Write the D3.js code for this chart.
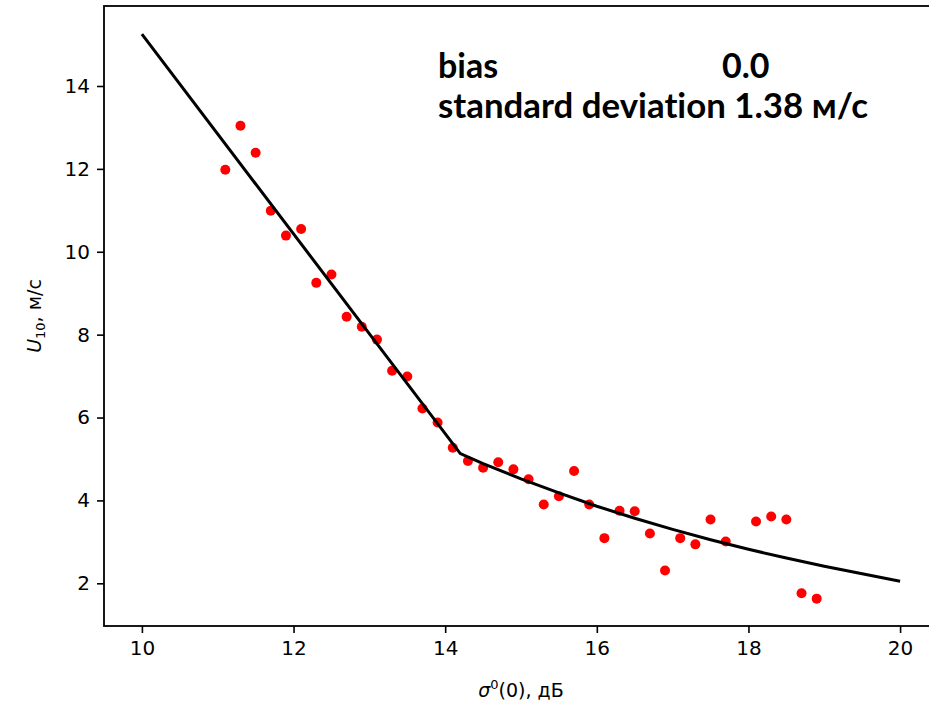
<!DOCTYPE html>
<html>
<head>
<meta charset="utf-8">
<script src="https://cdn.jsdelivr.net/npm/d3@7"></script>
<style>
  body { margin: 0; background: #fff; overflow: hidden; }
  svg { display: block; }
  .tick text { font-family: "DejaVu Sans", sans-serif; font-size: 20px; fill: #000; }
</style>
</head>
<body>
<script>
// measured points
const sigmaX = [11.1, 11.3, 11.5, 11.7, 11.9, 12.1, 12.3, 12.5, 12.7, 12.9,
                13.1, 13.3, 13.5, 13.7, 13.9, 14.1, 14.3, 14.5, 14.7, 14.9,
                15.1, 15.3, 15.5, 15.7, 15.9, 16.1, 16.3, 16.5, 16.7, 16.9,
                17.1, 17.3, 17.5, 17.7, 18.1, 18.3, 18.5, 18.7, 18.9];
const windU = [11.98, 13.04, 12.39, 10.99, 10.39, 10.55, 9.25, 9.45, 8.43, 8.19,
               7.88, 7.13, 6.99, 6.22, 5.88, 5.27, 4.95, 4.79, 4.92, 4.75,
               4.51, 3.90, 4.10, 4.71, 3.90, 3.09, 3.75, 3.74, 3.20, 2.31,
               3.09, 2.94, 3.54, 3.01, 3.49, 3.61, 3.54, 1.76, 1.63];

// model curve
const modelX = [10, 14.2, 14.5, 15, 15.5, 16, 16.5, 17, 17.5, 18, 18.5, 19, 19.5, 20];
const modelU = [15.25, 5.13, 4.89, 4.52, 4.18, 3.86, 3.57, 3.30, 3.05, 2.82, 2.61, 2.41, 2.23, 2.05];

const xTicks = [10, 12, 14, 16, 18, 20];
const yTicks = [2, 4, 6, 8, 10, 12, 14];

const statsLabels = ["bias", "standard deviation"];
const statsValues = ["0.0", "1.38 м/с"];

const w = 929, h = 704;
const padL = 104, padR = 938, padT = 6, padB = 626;

const svg = d3.select("body").append("svg")
  .attr("width", w)
  .attr("height", h);

const xScale = d3.scaleLinear().domain([9.5, 20.5]).range([padL, padR]);
const yScale = d3.scaleLinear().domain([0.97, 15.93]).range([padB, padT]);

const xAxis = d3.axisBottom(xScale).tickValues(xTicks).tickFormat(d3.format("d"))
  .tickSize(7).tickPadding(8).tickSizeOuter(0);
const yAxis = d3.axisLeft(yScale).tickValues(yTicks).tickFormat(d3.format("d"))
  .tickSize(7).tickPadding(7).tickSizeOuter(0);

const gx = svg.append("g").attr("transform", "translate(0," + padB + ")").call(xAxis);
const gy = svg.append("g").attr("transform", "translate(" + padL + ",0)").call(yAxis);
[gx, gy].forEach(g => {
  g.select(".domain").remove();
  g.selectAll(".tick line").attr("stroke", "#000").attr("stroke-width", 1.6);
});

// frame
svg.append("rect")
  .attr("x", padL).attr("y", padT)
  .attr("width", padR - padL).attr("height", padB - padT)
  .attr("fill", "none").attr("stroke", "#000").attr("stroke-width", 1.8);

const pts = sigmaX.map((x, i) => [x, windU[i]]);
svg.append("g").selectAll("circle")
  .data(pts)
  .enter()
  .append("circle")
  .attr("cx", d => xScale(d[0]))
  .attr("cy", d => yScale(d[1]))
  .attr("r", 5)
  .attr("fill", "#ff0000");

const line = d3.line().x(d => xScale(d[0])).y(d => yScale(d[1]));
svg.append("path")
  .datum(modelX.map((x, i) => [x, modelU[i]]))
  .attr("d", line)
  .attr("fill", "none")
  .attr("stroke", "#000")
  .attr("stroke-width", 3);

// axis labels
const xl = svg.append("text")
  .attr("x", (padL + padR) / 2).attr("y", 697)
  .attr("text-anchor", "middle")
  .style("font-family", "DejaVu Sans, sans-serif").style("font-size", "19px");
xl.append("tspan").attr("font-style", "italic").text("σ");
xl.append("tspan").attr("dy", -8).style("font-size", "13px").text("0");
xl.append("tspan").attr("dy", 8).text("(0), дБ");

const yl = svg.append("text")
  .attr("transform", "translate(41," + ((padT + padB) / 2) + ") rotate(-90)")
  .attr("text-anchor", "middle")
  .style("font-family", "DejaVu Sans, sans-serif").style("font-size", "19px");
yl.append("tspan").attr("font-style", "italic").text("U");
yl.append("tspan").attr("dy", 4).style("font-size", "13px").text("10");
yl.append("tspan").attr("dy", -4).text(", м/с");

// stats box text
const st = svg.append("g")
  .style("font-family", "Lato, sans-serif")
  .style("font-weight", "bold")
  .style("font-size", "34px")
  .style("font-variant-ligatures", "none")
  .attr("fill", "#000");
st.append("text").attr("x", 438).attr("y", 78).text(statsLabels[0]);
st.append("text").attr("x", 722).attr("y", 78).text(statsValues[0]);
st.append("text").attr("x", 438).attr("y", 118)
  .attr("textLength", 430).attr("lengthAdjust", "spacingAndGlyphs")
  .text(statsLabels[1] + " " + statsValues[1]);
</script>
</body>
</html>
